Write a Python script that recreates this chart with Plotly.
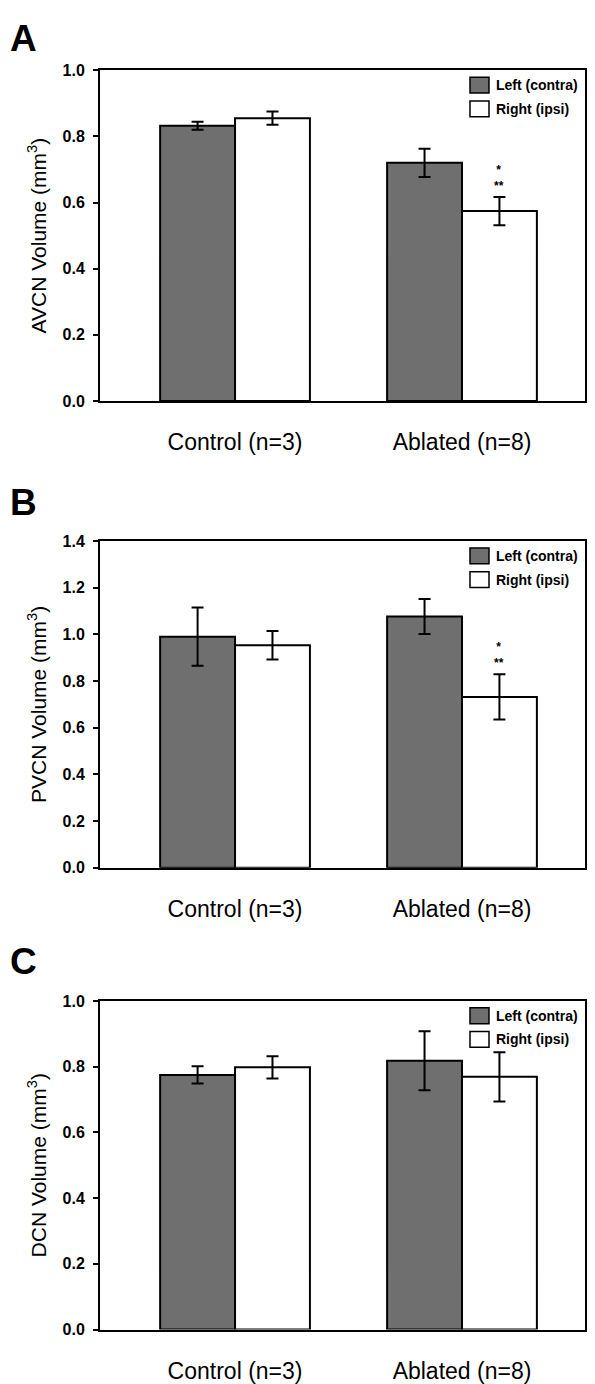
import plotly.graph_objects as go

# page body has an 8px default margin -> build the figure in page coords minus OFF
OFF = 8
W, H = 595 - OFF, 1384 - OFF

categories = ["Control (n=3)", "Ablated (n=8)"]
series_names = ["Left (contra)", "Right (ipsi)"]

# Panel A: AVCN
avcn_left = [0.832, 0.720]
avcn_left_err = [0.012, 0.043]
avcn_right = [0.855, 0.574]
avcn_right_err = [0.020, 0.043]

# Panel B: PVCN
pvcn_left = [0.990, 1.077]
pvcn_left_err = [0.125, 0.075]
pvcn_right = [0.953, 0.732]
pvcn_right_err = [0.061, 0.097]

# Panel C: DCN
dcn_left = [0.775, 0.818]
dcn_left_err = [0.026, 0.090]
dcn_right = [0.798, 0.769]
dcn_right_err = [0.034, 0.075]

panel_letters = ["A", "B", "C"]
y_titles = ["AVCN Volume (mm<sup>3</sup>)", "PVCN Volume (mm<sup>3</sup>)", "DCN Volume (mm<sup>3</sup>)"]
y_max = [1.0, 1.4, 1.0]
y_tickvals = [[0.0, 0.2, 0.4, 0.6, 0.8, 1.0],
              [0.0, 0.2, 0.4, 0.6, 0.8, 1.0, 1.2, 1.4],
              [0.0, 0.2, 0.4, 0.6, 0.8, 1.0]]
sig_marks = [[None, "*<br>**"], [None, "*<br>**"], [None, None]]

left_color = "#6f6f6f"
right_color = "#ffffff"

# page-pixel layout of each panel (top, bottom)
panel_px = [(63, 398), (540, 871), (1006, 1339)]
letter_top_px = [8, 478, 943]
x_left_px, x_right_px = 100, 585

data_sets = [
    (avcn_left, avcn_left_err, avcn_right, avcn_right_err),
    (pvcn_left, pvcn_left_err, pvcn_right, pvcn_right_err),
    (dcn_left, dcn_left_err, dcn_right, dcn_right_err),
]

def px(xp):
    return (xp - OFF) / W

def py(yp):
    return 1 - (yp - OFF) / H

fig = go.Figure()
FONT = "Liberation Sans, Arial, sans-serif"
shapes = []

for i, (lv, le, rv, re_) in enumerate(data_sets):
    k = "" if i == 0 else str(i + 1)
    xa, ya = "x" + k, "y" + k
    fig.add_trace(go.Bar(
        x=categories, y=lv, name=series_names[0], xaxis=xa, yaxis=ya,
        marker=dict(color=left_color, line=dict(color="black", width=2)),
        error_y=dict(type="data", array=le, color="black", thickness=2, width=6),
        showlegend=False, offsetgroup="L",
    ))
    fig.add_trace(go.Bar(
        x=categories, y=rv, name=series_names[1], xaxis=xa, yaxis=ya,
        marker=dict(color=right_color, line=dict(color="black", width=2)),
        error_y=dict(type="data", array=re_, color="black", thickness=2, width=6),
        showlegend=False, offsetgroup="R",
    ))

    top, bot = panel_px[i]
    ydom = [py(bot), py(top)]
    xdom = [px(x_left_px), px(x_right_px)]
    fig.layout["xaxis" + k] = dict(
        domain=xdom, anchor=ya, type="category",
        range=[-0.595, 1.542],
        showline=True, linecolor="black", linewidth=2, mirror=True,
        ticks="", showgrid=False, zeroline=False,
        tickfont=dict(family=FONT, size=23, color="black"),
        ticklabelstandoff=20,
    )
    fig.layout["yaxis" + k] = dict(
        domain=ydom, anchor=xa, range=[0, y_max[i]],
        tickvals=y_tickvals[i], ticktext=["%.1f" % v for v in y_tickvals[i]],
        showline=True, linecolor="black", linewidth=2, mirror=True,
        ticks="outside", ticklen=5, tickwidth=2, tickcolor="black",
        showgrid=False, zeroline=False, ticklabelstandoff=5,
        tickfont=dict(family=FONT, size=16, color="black", weight="bold"),
        title=dict(text=y_titles[i], font=dict(family=FONT, size=21, color="black"), standoff=10),
    )

    # legend (swatches + labels) in the upper right of each panel
    for j, (nm, col) in enumerate(zip(series_names, [left_color, right_color])):
        yc = top + 15 + 24 * j
        shapes.append(dict(
            type="rect", xref="paper", yref="paper",
            x0=px(470), x1=px(489), y0=py(yc + 8), y1=py(yc - 8),
            fillcolor=col, line=dict(color="black", width=1.5), layer="above",
        ))
        fig.add_annotation(
            text="<b>%s</b>" % nm, xref="paper", yref="paper",
            x=px(494), y=py(yc), xanchor="left", yanchor="middle",
            showarrow=False, font=dict(family=FONT, size=14, color="black"),
        )

    # panel letter
    fig.add_annotation(
        text="<b>%s</b>" % panel_letters[i], xref="paper", yref="paper",
        x=0.0, y=py(letter_top_px[i]), xanchor="left",
        yanchor="top", showarrow=False,
        font=dict(family=FONT, size=37, color="black"),
    )

    # significance marks above the error bar
    for j, s in enumerate(sig_marks[i]):
        if s:
            fig.add_annotation(
                text="<b>%s</b>" % s, x=categories[j], y=rv[j] + re_[j],
                xref=xa, yref=ya, xshift=37, yshift=2, yanchor="bottom",
                showarrow=False, font=dict(family=FONT, size=12, color="black"),
            )

fig.update_layout(
    width=W, height=H,
    margin=dict(l=0, r=0, t=0, b=0),
    paper_bgcolor="white", plot_bgcolor="white",
    barmode="group", bargap=0.34, bargroupgap=0,
    shapes=shapes, showlegend=False,
)

fig.write_html("out.html")
